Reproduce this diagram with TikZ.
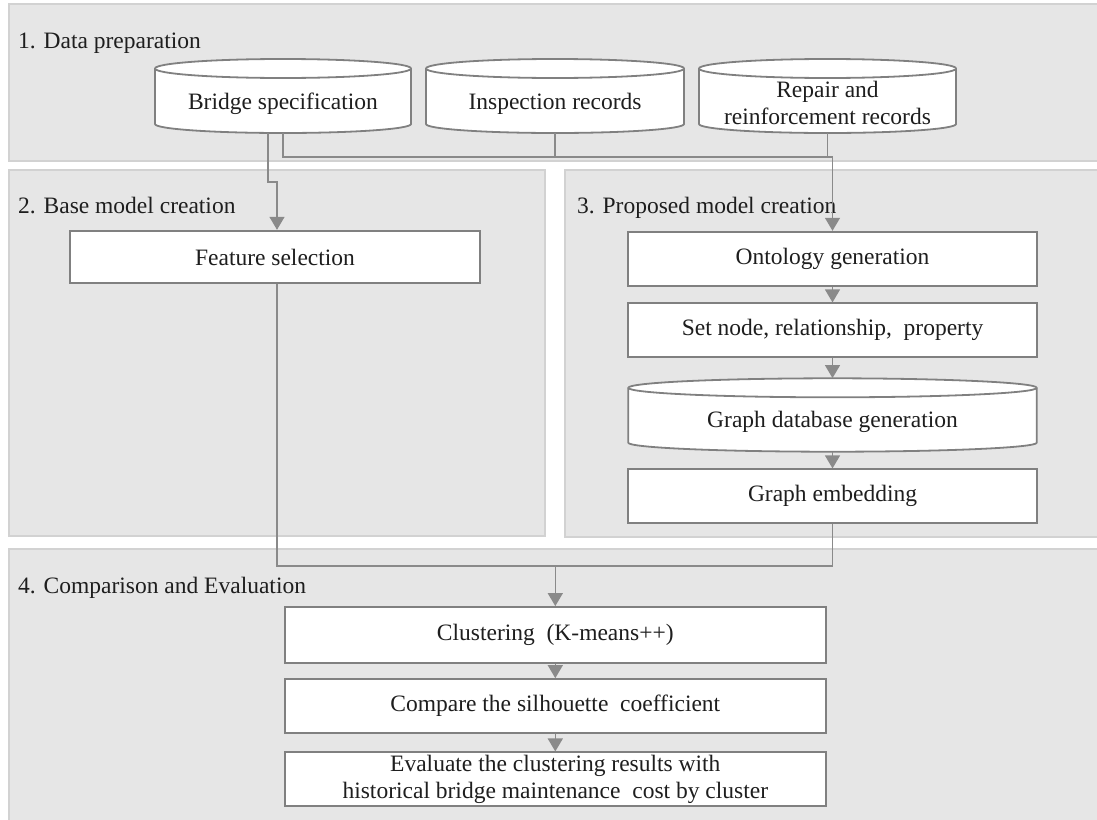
\documentclass[tikz,border=0pt]{standalone}
\usepackage{fontspec}
\setmainfont{Liberation Serif}
\usetikzlibrary{arrows.meta}
\definecolor{panelfill}{HTML}{E6E6E6}
\definecolor{panelline}{HTML}{D2D2D2}
\definecolor{boxline}{HTML}{808080}
\definecolor{connline}{HTML}{8A8A8A}
\definecolor{txtcol}{HTML}{1E1E1E}
\newcommand\drawcyl[4]{% left right top bottom
  \pgfmathsetmacro\cylrx{(#2-#1)/2}
  \filldraw[box] (#1,#3+9.5) -- (#1,#4-9) arc[start angle=180,end angle=0,x radius=\cylrx,y radius=9] -- (#2,#3+9.5) arc[start angle=0,end angle=-180,x radius=\cylrx,y radius=9.5] -- cycle;
  \draw[box] (#1,#3+9.5) arc[start angle=180,end angle=0,x radius=\cylrx,y radius=9.5];
}
\begin{document}
\begin{tikzpicture}[x=1pt,y=-1pt,
  panel/.style={fill=panelfill, draw=panelline, line width=2pt},
  box/.style={draw=boxline, fill=white, line width=1.8pt},
  boxn/.style={box, rectangle, inner sep=0pt, text=txtcol, align=center,
    font=\fontsize{23.5}{27.5}\selectfont},
  cylnode/.style={rectangle, draw=none, inner sep=0pt},
  txt/.style={inner sep=0pt, text=txtcol, align=center,
    font=\fontsize{23.5}{27.5}\selectfont},
  ttl/.style={inner sep=0pt, anchor=base west, text=txtcol,
    font=\fontsize{23.5}{27.5}\selectfont},
  conn/.style={draw=connline, line width=1.4pt},
  arr/.style={conn, -{Triangle[width=15pt,length=13pt]}}]
\useasboundingbox (0,0) rectangle (1097,819);
\clip (0,0) rectangle (1097,819);
\fill[white] (0,0) rectangle (1097,819);

% panels
\filldraw[panel] (9,4) rectangle (1105,161);
\filldraw[panel] (9,170) rectangle (545,536);
\filldraw[panel] (565,170) rectangle (1105,537);
\filldraw[panel] (9,549) rectangle (1105,830);

% titles
\node[ttl] (t1) at (18,48) {1. Data preparation};
\node[ttl] (t2) at (18,213) {2. Base model creation};
\node[ttl] (t3) at (577,213) {3. Proposed model creation};
\node[ttl] (t4) at (18,593) {4. Comparison and Evaluation};

% data cylinders
\drawcyl{155}{411}{59}{133}
\drawcyl{426}{684}{59}{133}
\drawcyl{699}{956}{59}{133}
\node[cylnode, minimum width=256, minimum height=74] (bs) at (283,96) {};
\node[cylnode, minimum width=258, minimum height=74] (ins) at (555,96) {};
\node[cylnode, minimum width=257, minimum height=74] (rep) at (827.5,96) {};
\node[txt] (bs-t) at (283,104) {Bridge specification};
\node[txt] (ins-t) at (555,104) {Inspection records};
\node[txt] (rep-t) at (827.5,103) {Repair and\\reinforcement records};

% base model
\node[boxn, minimum width=410, minimum height=52.6] (fs) at (275,257) {Feature selection};

% proposed model
\node[boxn, minimum width=408.4, minimum height=54] (onto) at (832.5,258.7) {Ontology generation};
\node[boxn, minimum width=408.4, minimum height=54] (set) at (832.5,330.3) {Set node, relationship,\ \ property};
\drawcyl{628.3}{1036.7}{378.3}{451.7}
\node[cylnode, minimum width=408.4, minimum height=73.4] (gdb) at (832.5,415) {};
\node[txt] (gdb-t) at (832.5,422) {Graph database generation};
\node[boxn, minimum width=408.4, minimum height=53.4] (ge) at (832.5,496) {Graph embedding};

% comparison
\node[boxn, minimum width=540.7, minimum height=56] (clu) at (555.3,635) {Clustering\ \ (K-means++)};
\node[boxn, minimum width=540.7, minimum height=54.3] (cmp) at (555.3,706.2) {Compare the silhouette\ \ coefficient};
\node[boxn, minimum width=540.7, minimum height=53.7] (eva) at (555.3,779.2) {Evaluate the clustering results with\\historical bridge maintenance\ \ cost by cluster};

% helper coordinates
\coordinate (hy) at (0,157);
\coordinate (hb) at (0,182);
\coordinate (hz) at (0,566);

% connectors from data preparation
\draw[arr] ([xshift=-15pt]bs.south) |- ([xshift=2pt]fs.north |- hb) -- ([xshift=2pt]fs.north);
\draw[conn] (ins.south) -- (ins.south |- hy);
\draw[conn] (rep.south) -- (rep.south |- hy);
\draw[arr] (bs.south) |- (onto.north |- hy) -- (onto.north);

% proposed chain
\draw[arr] (onto.south) -- (set.north);
\draw[arr] (set.south) -- (gdb.north);
\draw[arr] (gdb.south) -- (ge.north);

% merge into clustering
\draw[conn] ([xshift=2pt]fs.south) |- (clu.north |- hz);
\draw[conn] (ge.south) |- (clu.north |- hz);
\draw[arr] (clu.north |- hz) -- (clu.north);
\draw[arr] (clu.south) -- (cmp.north);
\draw[arr] (cmp.south) -- (eva.north);
\end{tikzpicture}
\end{document}
